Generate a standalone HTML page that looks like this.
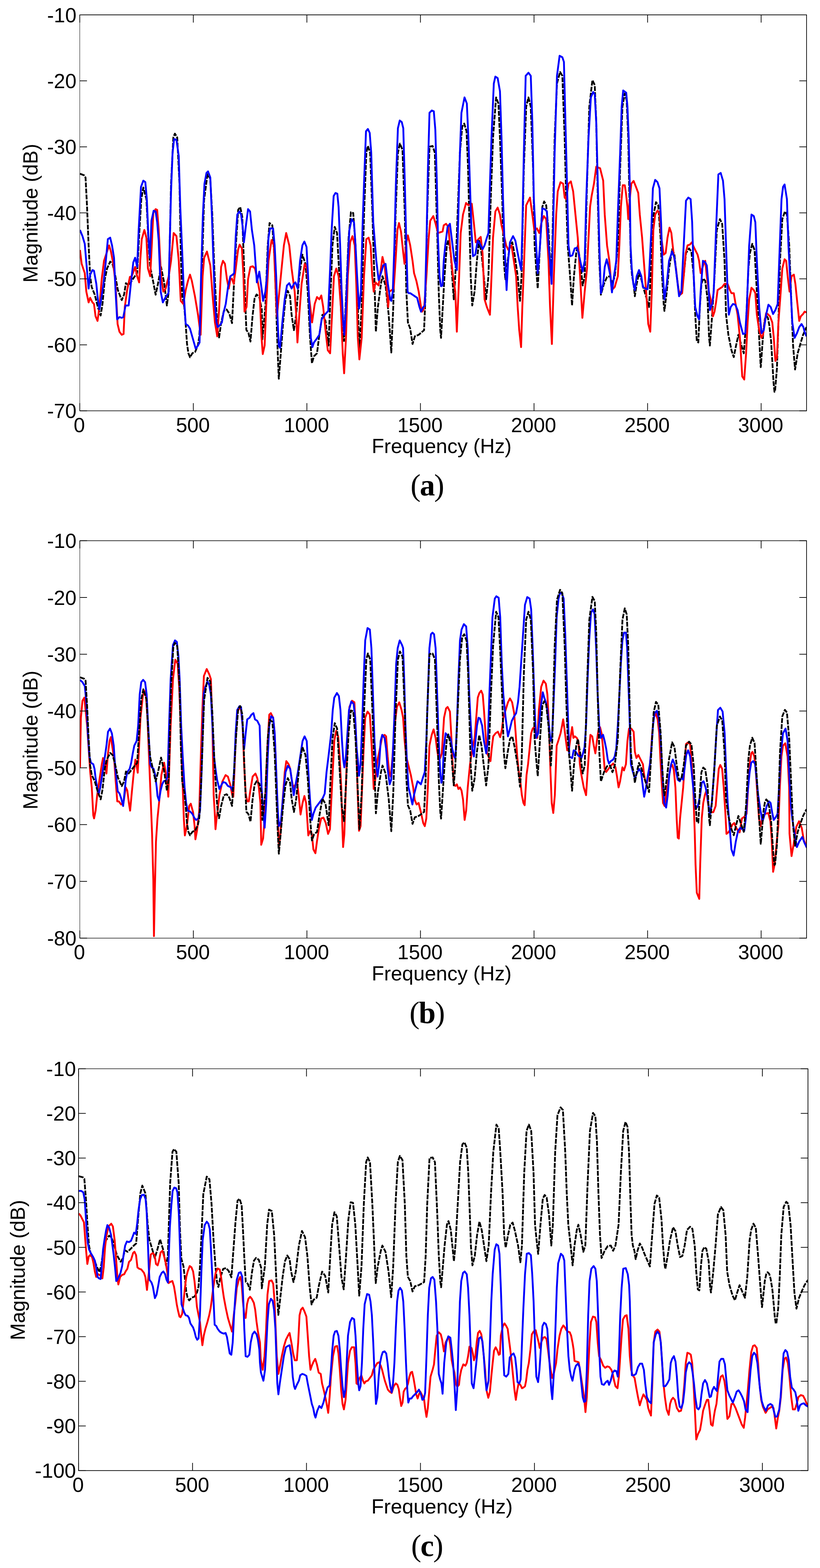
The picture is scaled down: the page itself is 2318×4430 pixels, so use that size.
<!DOCTYPE html>
<html><head><meta charset="utf-8"><title>Magnitude spectra</title>
<style>html,body{margin:0;padding:0;background:#fff;} svg{display:block;}</style></head>
<body><svg width="2318" height="4430" viewBox="0 0 2318 4430">
<rect width="2318" height="4430" fill="#fff"/>
<clipPath id="clipa"><rect x="225.5" y="42.0" width="2054.5" height="1118.7"/></clipPath>
<g clip-path="url(#clipa)" fill="none" stroke-linejoin="round" stroke-linecap="butt">
<polyline stroke="#000" stroke-width="5.0" stroke-dasharray="13.8 3.2" points="226.1,490.8 237.4,495.1 241.8,501.6 246.1,584.4 250.5,693.3 254.8,780.4 259.2,810.9 267.9,832.6 276.6,867.5 284.5,891.4 289.7,858.8 296.2,789.1 302.7,758.6 311.5,739.0 318.0,745.5 324.5,771.7 333.2,819.6 344.1,847.9 350.7,832.6 355.9,800.0 363.7,806.5 372.4,793.4 381.1,780.4 387.7,771.7 394.2,649.7 399.4,562.6 405.1,529.9 413.8,562.6 420.3,693.3 424.7,754.2 433.4,797.8 439.9,832.6 446.5,802.1 455.2,754.2 463.9,797.8 471.7,863.1 477.0,823.9 483.5,519.1 490.0,388.4 494.4,377.5 500.9,388.4 507.4,519.1 511.2,720.0 515.1,835.8 520.9,866.6 524.7,912.9 528.6,970.8 532.5,997.8 537.1,1009.3 544.0,997.8 551.8,993.9 559.5,974.6 563.3,951.5 567.2,874.3 571.0,758.6 576.8,565.7 586.5,492.4 594.2,504.0 600.0,604.3 605.8,758.6 611.5,874.3 615.4,932.2 619.3,953.4 625.0,912.9 632.8,878.2 640.5,874.3 648.2,885.9 655.9,912.9 661.7,797.2 667.5,681.5 673.3,592.7 679.1,585.0 684.8,612.0 688.7,720.0 692.6,835.8 696.4,932.2 702.2,939.9 708.0,965.0 713.8,893.6 719.6,843.5 725.3,831.9 733.1,839.6 740.0,874.3 741.5,958.9 750.2,867.5 756.8,693.3 762.0,630.1 769.8,636.6 776.4,736.8 780.7,867.5 785.1,998.1 788.1,1070.0 793.8,998.1 800.3,911.0 806.9,845.7 813.4,821.7 819.9,837.0 824.3,889.2 830.8,932.8 837.3,889.2 846.1,780.4 854.8,719.4 863.5,745.5 870.0,823.9 876.5,954.6 881.8,1026.4 887.4,1006.8 896.1,998.1 902.7,945.9 911.4,889.2 920.1,906.7 928.8,976.3 934.5,823.9 939.7,693.3 946.2,641.0 952.8,658.4 959.3,780.4 965.8,911.0 972.4,963.3 978.9,823.9 985.4,671.5 992.0,599.6 998.5,601.8 1005.0,693.3 1011.5,867.5 1015.9,989.4 1022.4,867.5 1029.0,606.2 1035.5,432.0 1039.9,412.4 1046.4,432.0 1052.9,606.2 1058.1,780.4 1062.5,937.2 1068.2,867.5 1076.9,802.1 1081.2,780.4 1089.9,806.5 1098.7,889.2 1106.1,995.9 1111.7,867.5 1118.2,606.2 1124.8,432.0 1130.4,405.8 1137.8,423.2 1144.4,606.2 1148.7,823.9 1153.1,911.0 1159.6,928.4 1166.2,972.0 1172.7,950.2 1183.6,945.9 1198.8,932.8 1203.2,823.9 1207.5,606.2 1214.1,414.5 1222.8,412.4 1229.3,432.0 1235.8,649.7 1240.2,823.9 1244.5,932.8 1246.7,954.6 1256.5,780.4 1263.1,693.3 1267.4,678.0 1274.0,715.0 1278.3,780.4 1282.7,845.7 1287.0,780.4 1293.6,606.2 1300.1,432.0 1306.6,357.9 1312.3,349.2 1318.8,371.0 1323.2,475.5 1327.5,649.7 1330.6,780.4 1334.9,863.1 1341.5,823.9 1348.0,736.8 1354.5,680.2 1361.1,715.0 1367.6,780.4 1374.1,845.7 1380.7,780.4 1387.2,562.6 1393.7,388.4 1402.4,275.2 1409.0,292.6 1413.3,388.4 1419.8,562.6 1424.2,736.8 1428.6,789.1 1435.1,736.8 1441.6,693.3 1448.2,684.6 1454.7,719.4 1463.4,780.4 1469.9,850.1 1474.3,780.4 1480.8,475.5 1487.4,301.3 1493.9,275.2 1500.4,301.3 1507.0,475.5 1511.3,693.3 1515.7,758.6 1520.0,815.2 1526.5,693.3 1533.1,584.4 1538.3,569.1 1544.0,580.0 1550.5,649.7 1557.0,780.4 1561.4,693.3 1567.9,388.4 1574.5,236.0 1583.2,203.3 1589.7,214.2 1596.2,388.4 1600.6,562.6 1604.9,693.3 1611.5,780.4 1617.1,863.1 1622.4,780.4 1628.9,715.0 1633.2,693.3 1639.8,736.8 1647.2,806.5 1652.8,780.4 1659.4,519.1 1665.9,301.3 1674.6,226.4 1681.2,240.3 1685.5,344.9 1689.9,562.6 1694.2,736.8 1698.6,832.6 1707.3,802.1 1716.0,782.5 1724.7,780.4 1731.2,802.1 1737.8,780.4 1746.5,693.3 1753.0,475.5 1759.5,301.3 1766.1,264.3 1771.5,283.9 1775.9,388.4 1780.2,606.2 1783.3,736.8 1786.8,780.4 1791.1,802.1 1794.6,837.0 1799.8,802.1 1806.4,771.7 1812.9,789.1 1819.4,815.2 1826.0,837.0 1834.7,867.5 1839.0,780.4 1843.4,693.3 1847.7,606.2 1854.3,571.3 1860.8,580.0 1867.3,671.5 1871.7,780.4 1876.1,858.8 1878.2,878.4 1884.8,823.9 1891.3,758.6 1900.0,704.2 1906.5,719.4 1913.1,780.4 1919.6,828.3 1926.1,823.9 1932.7,780.4 1939.2,715.0 1947.9,702.0 1954.4,710.7 1961.0,780.4 1965.3,889.2 1969.7,963.3 1974.0,967.6 1978.4,867.5 1982.8,802.1 1988.0,786.9 1993.6,793.4 2000.2,845.7 2004.5,954.6 2006.7,976.3 2013.2,889.2 2019.8,780.4 2026.3,649.7 2035.0,619.2 2041.5,632.3 2048.1,736.8 2052.4,889.2 2059.0,945.9 2067.7,989.4 2074.2,1009.0 2080.7,976.3 2087.3,945.9 2096.0,976.3 2102.5,998.1 2109.1,911.0 2115.6,758.6 2119.9,715.0 2126.5,688.9 2133.0,706.3 2139.5,823.9 2146.1,954.6 2150.4,1037.3 2150.8,1035.1 2154.6,981.3 2158.5,927.5 2162.3,900.6 2166.2,891.6 2170.8,898.4 2174.7,918.6 2179.7,963.4 2183.5,1026.2 2186.6,1080.0 2189.3,1106.9 2190.9,1104.8 2196.2,1041.7 2200.5,911.0 2204.9,736.8 2211.4,619.2 2218.8,597.5 2224.5,606.2 2231.0,693.3 2237.5,867.5 2241.9,976.3 2247.5,1043.9 2254.9,998.1 2263.7,967.6 2270.2,945.9 2279.8,924.1"/>
<polyline stroke="#ff0000" stroke-width="5.2" points="226.1,706.3 230.9,745.5 239.6,771.7 244.0,823.9 250.5,854.4 254.8,841.3 261.4,854.4 265.7,858.8 270.1,893.6 275.7,906.7 281.0,867.5 287.5,789.1 294.0,736.8 302.7,710.7 308.4,693.3 313.6,710.7 320.2,745.5 326.7,802.1 332.4,915.4 337.6,937.2 344.1,945.9 349.3,943.7 352.8,867.5 359.4,819.6 367.2,782.5 372.4,780.4 379.0,762.9 382.0,754.2 387.7,780.4 393.3,797.8 396.4,736.8 400.7,675.8 408.1,649.7 413.8,671.5 418.2,758.6 424.7,780.4 429.0,693.3 433.4,601.8 439.9,590.9 444.3,593.1 448.6,649.7 455.2,780.4 461.7,823.9 468.2,815.2 477.0,780.4 483.5,736.8 490.9,658.4 498.7,667.1 505.3,736.8 510.9,850.1 518.3,858.8 524.9,819.6 531.4,793.4 537.1,776.0 542.3,793.4 551.0,837.0 559.7,889.2 567.1,945.9 572.8,780.4 577.1,728.1 585.0,710.7 594.5,749.9 601.1,837.0 607.6,911.0 614.1,950.2 619.8,867.5 625.0,754.2 630.3,736.8 635.9,745.5 641.6,789.1 646.8,815.2 651.2,789.1 655.5,786.9 660.7,802.1 666.4,758.6 672.9,706.3 677.3,691.1 683.8,702.0 688.2,780.4 691.2,880.5 696.9,867.5 701.2,789.1 707.8,754.2 714.3,752.1 720.8,758.6 727.4,789.1 733.9,823.9 739.4,954.6 742.8,1000.3 748.1,976.3 752.4,867.5 759.0,736.8 767.7,678.0 774.2,693.3 778.6,802.1 782.9,893.6 796.0,758.6 802.5,693.3 809.0,658.4 817.7,693.3 824.3,758.6 833.0,823.9 837.3,889.2 840.8,967.6 846.1,889.2 852.6,802.1 861.3,745.5 867.8,758.6 874.4,845.7 882.2,911.0 889.6,858.8 896.1,839.2 902.7,845.7 908.3,834.8 913.6,867.5 920.1,932.8 926.6,989.4 933.2,998.1 937.5,911.0 944.0,780.4 950.6,758.6 957.1,780.4 963.6,867.5 968.9,998.1 972.8,1054.7 978.0,954.6 983.2,780.4 989.8,684.6 996.3,667.1 1002.8,693.3 1007.2,802.1 1011.5,954.6 1015.9,1015.5 1022.4,954.6 1029.0,780.4 1035.5,675.8 1042.0,671.5 1047.7,693.3 1052.1,780.4 1056.4,823.9 1061.6,797.8 1070.3,806.5 1076.9,758.6 1081.2,725.9 1087.8,754.2 1092.1,802.1 1097.3,867.5 1100.8,823.9 1107.4,819.6 1113.0,815.2 1118.2,736.8 1123.5,649.7 1127.8,630.1 1133.5,654.1 1140.0,715.0 1143.5,745.5 1148.7,684.6 1153.1,665.0 1159.6,693.3 1166.2,736.8 1170.5,771.7 1177.0,793.4 1183.6,823.9 1190.1,867.5 1193.2,880.5 1198.8,871.8 1205.4,780.4 1211.9,671.5 1216.2,623.6 1224.9,610.5 1231.5,632.3 1238.0,658.4 1244.5,656.2 1251.1,654.1 1254.4,636.6 1260.9,632.3 1267.4,641.0 1274.0,715.0 1280.5,780.4 1287.0,823.9 1291.4,937.2 1297.9,780.4 1302.3,658.4 1308.8,606.2 1317.5,573.5 1324.0,580.0 1333.6,575.7 1339.3,627.9 1344.9,684.6 1352.3,675.8 1358.9,669.3 1364.1,715.0 1369.8,845.7 1376.3,867.5 1385.0,889.2 1389.4,780.4 1393.7,671.5 1400.3,597.5 1406.8,586.6 1413.3,606.2 1417.7,636.6 1424.2,662.8 1430.7,693.3 1437.3,706.3 1446.0,693.3 1452.5,736.8 1459.0,780.4 1463.4,867.5 1467.8,932.8 1473.0,980.7 1476.5,867.5 1480.8,758.6 1487.4,580.0 1498.2,558.3 1504.8,606.2 1510.4,649.7 1517.8,645.4 1524.4,658.4 1530.9,627.9 1537.4,610.5 1544.0,619.2 1550.5,736.8 1554.9,867.5 1560.1,972.0 1565.7,780.4 1572.3,606.2 1576.6,540.8 1584.5,514.7 1591.9,519.1 1596.2,558.3 1600.6,562.6 1607.1,519.1 1613.7,512.5 1620.2,540.8 1626.7,606.2 1633.2,671.5 1639.8,780.4 1646.3,898.0 1652.8,823.9 1659.4,758.6 1663.7,671.5 1668.1,584.4 1672.4,553.9 1679.0,519.1 1685.5,471.2 1696.4,475.5 1705.1,510.4 1709.5,606.2 1716.0,693.3 1722.5,736.8 1729.1,819.6 1737.8,810.9 1746.5,780.4 1750.8,693.3 1755.2,584.4 1760.4,523.4 1766.1,523.4 1769.4,545.2 1773.7,584.4 1775.9,619.2 1780.2,562.6 1784.6,519.1 1791.1,511.2 1797.7,527.8 1804.2,545.2 1808.6,606.2 1815.1,671.5 1821.6,758.6 1828.1,845.7 1832.5,915.4 1838.2,937.2 1842.5,823.9 1846.9,649.7 1852.1,606.2 1858.6,595.3 1864.3,601.8 1869.5,671.5 1876.1,719.4 1881.7,715.0 1886.9,671.5 1892.6,643.2 1897.8,658.4 1904.4,719.4 1910.9,758.6 1917.4,815.2 1922.7,832.6 1928.3,828.3 1932.7,780.4 1938.3,715.0 1943.6,693.3 1950.1,691.1 1955.8,684.6 1961.0,697.6 1967.5,710.7 1971.9,719.4 1976.2,736.8 1980.6,771.7 1984.9,758.6 1989.3,745.5 1993.6,736.8 1998.0,780.4 2003.7,823.9 2008.9,845.7 2015.4,893.6 2019.8,880.5 2024.1,854.4 2028.5,819.6 2035.0,815.2 2041.5,810.9 2048.1,802.1 2056.8,802.1 2063.3,819.6 2067.7,828.3 2074.2,828.3 2078.6,854.4 2085.1,889.2 2091.6,954.6 2098.2,1063.5 2103.8,1072.2 2109.1,998.1 2113.4,911.0 2117.8,845.7 2124.3,813.0 2130.8,819.6 2135.2,828.3 2139.5,889.2 2146.1,932.8 2152.6,954.6 2157.0,945.9 2161.3,911.0 2165.7,884.9 2170.0,887.1 2176.6,893.6 2183.1,911.0 2187.4,954.6 2191.8,1019.9 2196.2,1011.2 2200.5,911.0 2207.0,823.9 2211.4,758.6 2217.9,732.5 2222.3,736.8 2226.6,780.4 2231.9,823.9 2237.5,780.4 2244.1,776.0 2248.4,802.1 2252.8,845.7 2259.3,906.7 2263.7,893.6 2270.2,887.1 2274.5,880.5 2279.8,882.7"/>
<polyline stroke="#0000ff" stroke-width="5.2" points="226.1,649.7 233.1,667.1 239.6,688.9 244.0,741.2 250.5,815.2 254.8,776.0 261.4,762.9 265.7,765.1 272.3,802.1 276.6,845.7 281.0,874.0 285.3,850.1 291.9,806.5 298.4,745.5 304.9,675.8 311.5,671.5 316.7,693.3 322.3,728.1 326.7,823.9 331.1,902.3 337.6,895.8 344.1,898.0 348.5,895.8 355.0,863.1 363.7,863.1 370.3,797.8 376.8,741.2 382.0,728.1 387.7,754.2 392.0,649.7 398.6,527.8 405.1,510.4 410.8,514.7 415.1,562.6 419.5,667.1 423.8,728.1 428.2,623.6 434.3,595.3 439.9,597.5 444.3,627.9 448.6,680.2 454.3,823.9 460.4,854.4 468.2,839.2 476.1,828.3 479.1,715.0 483.5,540.8 487.8,432.0 492.2,392.8 498.7,394.9 505.3,440.7 509.6,584.4 516.1,736.8 520.5,845.7 524.9,915.4 531.4,919.7 537.1,928.4 544.5,954.6 553.2,985.1 559.7,976.3 564.1,967.6 568.4,780.4 573.6,606.2 578.0,519.1 583.7,488.6 588.0,484.2 594.5,501.6 598.9,606.2 603.2,736.8 607.6,858.8 612.0,911.0 615.4,924.1 620.7,919.7 627.2,911.0 631.6,884.9 638.1,858.8 644.6,810.9 651.2,780.4 657.7,776.0 662.0,771.7 666.4,667.1 670.8,606.2 676.4,597.5 681.6,606.2 686.0,641.0 689.5,684.6 694.7,641.0 701.2,590.9 706.9,597.5 712.1,649.7 718.7,693.3 726.1,797.8 733.0,767.3 739.4,815.2 743.7,850.1 750.2,823.9 754.6,780.4 759.0,671.5 763.3,645.4 772.0,645.4 776.4,693.3 780.7,780.4 785.1,911.0 788.1,976.3 791.6,982.9 798.1,911.0 804.7,845.7 811.2,806.5 817.7,800.0 824.3,815.2 830.8,802.1 835.2,797.8 841.7,815.2 848.2,736.8 854.8,693.3 860.4,682.4 866.5,697.6 870.9,780.4 874.4,867.5 878.7,954.6 883.1,980.7 887.4,967.6 894.0,958.9 902.7,945.9 909.2,902.3 917.9,889.2 927.9,878.4 933.2,758.6 937.5,649.7 943.2,553.9 948.4,545.2 953.6,547.4 957.1,584.4 961.5,693.3 965.8,823.9 970.2,911.0 973.2,945.9 978.0,867.5 983.2,736.8 987.6,649.7 994.1,619.2 1000.7,627.9 1005.0,693.3 1009.4,780.4 1015.0,871.8 1020.3,823.9 1024.6,649.7 1029.0,519.1 1034.6,371.0 1039.9,364.5 1045.1,375.3 1049.4,432.0 1055.1,627.9 1063.8,736.8 1070.3,791.3 1076.9,771.7 1083.4,749.9 1089.9,745.5 1096.5,802.1 1103.0,845.7 1106.1,850.1 1110.4,823.9 1114.8,693.3 1119.1,519.1 1124.8,362.3 1130.0,340.5 1135.7,344.9 1140.0,362.3 1144.4,519.1 1148.7,693.3 1152.2,823.9 1155.3,828.3 1159.6,828.3 1166.2,832.6 1172.7,837.0 1179.2,841.3 1185.8,867.5 1190.1,880.5 1196.6,867.5 1201.0,863.1 1205.4,693.3 1209.7,475.5 1214.1,318.7 1220.6,312.2 1226.3,314.4 1230.6,366.6 1235.0,519.1 1238.0,671.5 1242.4,780.4 1246.7,808.7 1251.1,806.5 1254.4,736.8 1258.7,693.3 1265.2,641.0 1271.8,632.3 1278.3,684.6 1284.8,736.8 1291.4,762.9 1295.7,606.2 1300.1,432.0 1304.4,318.7 1313.1,275.2 1319.7,292.6 1324.0,388.4 1328.4,519.1 1332.7,649.7 1337.1,723.8 1343.6,719.4 1350.2,680.2 1356.7,688.9 1364.1,704.2 1369.8,693.3 1376.3,671.5 1380.7,658.4 1385.0,519.1 1389.4,388.4 1395.9,236.0 1400.3,216.4 1406.8,220.7 1413.3,257.8 1417.7,388.4 1422.0,562.6 1426.4,693.3 1432.0,819.6 1436.4,736.8 1441.6,684.6 1450.3,667.1 1456.9,680.2 1463.4,715.0 1467.8,736.8 1473.4,762.9 1476.5,649.7 1480.8,432.0 1486.0,214.2 1493.9,205.5 1500.4,214.2 1504.8,344.9 1509.1,562.6 1515.7,693.3 1520.0,771.7 1526.5,693.3 1533.1,588.7 1539.6,590.9 1546.1,597.5 1550.5,693.3 1554.9,736.8 1559.2,802.1 1563.6,649.7 1567.9,432.0 1574.5,214.2 1581.9,157.6 1589.7,161.9 1594.1,175.0 1598.4,344.9 1602.8,519.1 1607.1,693.3 1611.5,723.8 1618.0,721.6 1624.5,702.0 1631.1,699.8 1635.4,715.0 1642.0,745.5 1647.2,767.3 1652.8,736.8 1657.2,562.6 1663.7,388.4 1670.3,275.2 1676.8,259.9 1681.2,266.5 1685.5,344.9 1689.9,519.1 1694.2,693.3 1698.6,828.3 1705.1,802.1 1709.5,754.2 1715.1,732.5 1720.4,754.2 1725.6,780.4 1729.9,826.1 1735.6,780.4 1742.1,736.8 1746.5,606.2 1753.0,432.0 1757.4,301.3 1761.7,255.6 1770.2,262.1 1773.7,301.3 1777.2,388.4 1780.2,519.1 1782.4,693.3 1785.9,758.6 1790.3,802.1 1794.6,819.6 1799.8,780.4 1806.4,762.9 1812.9,780.4 1817.3,810.9 1823.8,815.2 1830.3,817.4 1834.7,780.4 1841.2,649.7 1845.6,532.1 1852.1,508.2 1858.6,514.7 1864.3,532.1 1868.7,627.9 1873.0,758.6 1878.2,845.7 1884.8,802.1 1891.3,736.8 1900.0,710.7 1906.5,728.1 1913.1,780.4 1919.6,837.0 1926.1,823.9 1932.7,693.3 1939.2,567.0 1945.7,558.3 1952.3,562.6 1956.6,627.9 1961.0,780.4 1965.3,867.5 1971.9,893.6 1976.2,902.3 1980.6,823.9 1987.1,736.8 1993.6,741.2 1998.0,749.9 2002.4,802.1 2006.7,876.2 2013.2,858.8 2017.6,823.9 2024.1,649.7 2030.7,492.9 2037.2,488.6 2043.7,510.4 2048.1,562.6 2052.4,693.3 2056.8,823.9 2060.3,889.2 2065.5,867.5 2072.0,858.8 2078.6,860.9 2085.1,876.2 2091.6,911.0 2100.3,943.7 2106.9,941.5 2111.2,867.5 2117.8,693.3 2124.3,606.2 2130.8,610.5 2135.2,627.9 2139.5,736.8 2146.1,867.5 2152.6,941.5 2159.1,932.8 2165.7,889.2 2172.2,860.9 2178.7,867.5 2185.3,887.1 2191.8,876.2 2198.3,858.8 2202.7,736.8 2209.2,562.6 2213.6,527.8 2217.9,521.2 2224.5,562.6 2228.8,693.3 2235.4,823.9 2239.7,911.0 2246.2,954.6 2252.8,941.5 2259.3,924.1 2265.8,915.4 2271.1,924.1 2274.5,937.2 2279.8,950.2"/>
</g>
<g stroke="#000" fill="none">
<line x1="224.95" y1="42.0" x2="2280.95" y2="42.0" stroke-width="1.9"/>
<line x1="224.95" y1="1160.7" x2="2280.95" y2="1160.7" stroke-width="1.8"/>
<line x1="225.5" y1="42.0" x2="225.5" y2="1160.7" stroke-width="1.1"/>
<line x1="2280.0" y1="42.0" x2="2280.0" y2="1160.7" stroke-width="1.9"/>
<line x1="225.5" y1="1160.7" x2="225.5" y2="1138.9" stroke-width="2"/>
<line x1="225.5" y1="42.0" x2="225.5" y2="63.8" stroke-width="2"/>
<line x1="546.5" y1="1160.7" x2="546.5" y2="1138.9" stroke-width="2"/>
<line x1="546.5" y1="42.0" x2="546.5" y2="63.8" stroke-width="2"/>
<line x1="867.5" y1="1160.7" x2="867.5" y2="1138.9" stroke-width="2"/>
<line x1="867.5" y1="42.0" x2="867.5" y2="63.8" stroke-width="2"/>
<line x1="1188.5" y1="1160.7" x2="1188.5" y2="1138.9" stroke-width="2"/>
<line x1="1188.5" y1="42.0" x2="1188.5" y2="63.8" stroke-width="2"/>
<line x1="1509.6" y1="1160.7" x2="1509.6" y2="1138.9" stroke-width="2"/>
<line x1="1509.6" y1="42.0" x2="1509.6" y2="63.8" stroke-width="2"/>
<line x1="1830.6" y1="1160.7" x2="1830.6" y2="1138.9" stroke-width="2"/>
<line x1="1830.6" y1="42.0" x2="1830.6" y2="63.8" stroke-width="2"/>
<line x1="2151.6" y1="1160.7" x2="2151.6" y2="1138.9" stroke-width="2"/>
<line x1="2151.6" y1="42.0" x2="2151.6" y2="63.8" stroke-width="2"/>
<line x1="225.5" y1="1160.7" x2="245.9" y2="1160.7" stroke-width="2"/>
<line x1="2280.0" y1="1160.7" x2="2259.6" y2="1160.7" stroke-width="2"/>
<line x1="225.5" y1="974.3" x2="245.9" y2="974.3" stroke-width="2"/>
<line x1="2280.0" y1="974.3" x2="2259.6" y2="974.3" stroke-width="2"/>
<line x1="225.5" y1="787.8" x2="245.9" y2="787.8" stroke-width="2"/>
<line x1="2280.0" y1="787.8" x2="2259.6" y2="787.8" stroke-width="2"/>
<line x1="225.5" y1="601.4" x2="245.9" y2="601.4" stroke-width="2"/>
<line x1="2280.0" y1="601.4" x2="2259.6" y2="601.4" stroke-width="2"/>
<line x1="225.5" y1="414.9" x2="245.9" y2="414.9" stroke-width="2"/>
<line x1="2280.0" y1="414.9" x2="2259.6" y2="414.9" stroke-width="2"/>
<line x1="225.5" y1="228.4" x2="245.9" y2="228.4" stroke-width="2"/>
<line x1="2280.0" y1="228.4" x2="2259.6" y2="228.4" stroke-width="2"/>
<line x1="225.5" y1="42.0" x2="245.9" y2="42.0" stroke-width="2"/>
<line x1="2280.0" y1="42.0" x2="2259.6" y2="42.0" stroke-width="2"/>
</g>
<g font-family="'Liberation Sans', Arial, Helvetica, sans-serif" font-size="57.4" fill="#000">
<text x="224.3" y="1220.5" text-anchor="middle">0</text>
<text x="545.3" y="1220.5" text-anchor="middle">500</text>
<text x="866.3" y="1220.5" text-anchor="middle">1000</text>
<text x="1187.3" y="1220.5" text-anchor="middle">1500</text>
<text x="1508.4" y="1220.5" text-anchor="middle">2000</text>
<text x="1829.4" y="1220.5" text-anchor="middle">2500</text>
<text x="2150.4" y="1220.5" text-anchor="middle">3000</text>
<text x="216.1" y="1181.2" text-anchor="end">-70</text>
<text x="216.1" y="994.8" text-anchor="end">-60</text>
<text x="216.1" y="808.3" text-anchor="end">-50</text>
<text x="216.1" y="621.9" text-anchor="end">-40</text>
<text x="216.1" y="435.4" text-anchor="end">-30</text>
<text x="216.1" y="248.9" text-anchor="end">-20</text>
<text x="216.1" y="62.5" text-anchor="end">-10</text>
<text x="1248.5" y="1280.4" text-anchor="middle">Frequency (Hz)</text>
<text transform="translate(106.1,602.3) rotate(-90)" text-anchor="middle">Magnitude (dB)</text>
</g>
<text x="1207.0" y="1400.0" font-family="'Liberation Serif', 'Times New Roman', serif" font-size="86" text-anchor="middle" letter-spacing="-2.4">(<tspan font-weight="bold">a</tspan>)</text>
<clipPath id="clipb"><rect x="225.6" y="1527.6" width="2054.4" height="1122.9"/></clipPath>
<g clip-path="url(#clipb)" fill="none" stroke-linejoin="round" stroke-linecap="butt">
<polyline stroke="#ff0000" stroke-width="5.2" points="226.1,2167.9 228.7,2027.9 233.1,1979.8 238.4,1971.1 241.9,2006.1 246.2,2049.8 250.6,2115.4 255.0,2181.0 259.4,2224.7 263.7,2303.5 265.9,2312.2 270.3,2290.3 274.7,2246.6 281.2,2202.9 287.8,2159.1 291.3,2141.7 296.5,2150.4 300.9,2185.4 305.3,2128.5 309.7,2093.5 313.2,2082.6 318.4,2115.4 322.8,2146.0 327.1,2207.3 331.5,2264.1 335.9,2264.1 342.5,2272.9 349.0,2268.5 355.6,2224.7 359.9,2233.5 364.3,2268.5 367.8,2290.3 373.1,2233.5 377.4,2189.8 382.7,2146.0 386.2,2163.5 389.3,2183.2 392.8,2115.4 397.1,2027.9 403.7,1966.7 408.1,1951.4 412.4,1962.3 416.8,2027.9 421.2,2137.3 425.6,2246.6 429.9,2356.0 433.4,2487.2 435.2,2644.6 437.4,2530.9 440.9,2377.8 445.2,2312.2 449.6,2268.5 456.2,2189.8 464.0,2154.8 469.3,2189.8 473.7,2224.7 475.8,2251.0 478.0,2181.0 482.4,2049.8 489.0,1918.6 495.5,1863.9 502.1,1874.9 506.5,1940.5 510.8,2049.8 515.2,2181.0 519.6,2312.2 522.6,2360.3 528.3,2334.1 534.9,2277.2 539.3,2270.7 545.8,2294.7 550.2,2334.1 552.4,2371.3 556.8,2347.2 563.3,2290.3 567.7,2137.3 572.1,2006.1 576.4,1909.9 584.3,1890.2 591.7,1905.5 596.1,1918.6 600.5,2049.8 604.0,2246.6 607.0,2294.7 609.2,2342.8 612.3,2312.2 615.8,2286.0 620.2,2246.6 628.9,2207.3 637.7,2189.8 644.2,2194.1 650.8,2216.0 656.5,2246.6 659.5,2251.0 662.6,2181.0 666.1,2093.5 670.5,2014.8 677.0,1997.3 681.4,2006.1 685.8,2049.8 690.1,2159.1 694.5,2242.2 698.9,2264.1 703.3,2264.1 707.6,2233.5 714.2,2194.1 722.1,2185.4 727.3,2198.5 731.7,2224.7 736.1,2268.5 738.5,2386.6 743.7,2369.1 748.1,2312.2 752.5,2181.0 756.9,2093.5 761.2,2019.2 765.6,2014.8 772.2,2027.9 776.5,2071.7 780.9,2181.0 785.3,2312.2 788.4,2390.9 792.7,2356.0 798.4,2268.5 805.0,2181.0 809.3,2150.4 815.9,2159.1 820.3,2172.3 824.7,2202.9 829.0,2224.7 835.6,2216.0 840.0,2211.6 844.3,2246.6 849.6,2301.3 855.3,2268.5 860.5,2248.8 865.3,2268.5 868.4,2312.2 871.5,2360.3 877.1,2347.2 881.5,2356.0 885.9,2399.7 891.6,2410.6 895.9,2377.8 901.2,2342.8 907.8,2312.2 914.3,2310.0 920.9,2325.3 927.4,2356.0 932.7,2342.8 936.2,2268.5 940.6,2181.0 944.9,2093.5 950.2,2065.1 955.9,2080.4 960.2,2137.3 964.6,2224.7 967.7,2334.1 969.9,2393.1 973.4,2356.0 977.7,2224.7 982.1,2093.5 987.8,1997.3 995.2,1979.8 1001.8,1984.2 1006.2,2071.7 1010.5,2224.7 1014.9,2347.2 1019.3,2334.1 1023.6,2224.7 1028.0,2115.4 1032.4,2027.9 1039.0,2010.4 1045.5,2019.2 1049.9,2093.5 1054.3,2181.0 1056.4,2229.1 1060.8,2202.9 1067.4,2146.0 1073.9,2115.4 1080.5,2080.4 1087.1,2076.1 1091.4,2080.4 1095.8,2137.3 1100.2,2181.0 1104.6,2194.1 1108.9,2146.0 1115.5,2049.8 1122.0,1997.3 1128.6,1984.2 1135.2,2006.1 1139.5,2027.9 1143.9,2093.5 1148.3,2137.3 1154.8,2163.5 1161.4,2189.8 1168.0,2224.7 1172.3,2259.7 1177.6,2272.9 1183.3,2268.5 1189.8,2294.7 1196.4,2325.3 1200.8,2334.1 1205.1,2312.2 1209.5,2224.7 1213.9,2106.7 1220.4,2076.1 1225.7,2060.7 1231.4,2084.8 1235.8,2119.8 1240.1,2146.0 1244.5,2141.7 1248.9,2128.5 1255.2,2027.9 1260.9,2001.7 1265.3,1997.3 1271.9,2010.4 1275.4,2071.7 1278.4,2137.3 1282.8,2216.0 1287.2,2220.4 1291.5,2216.0 1295.9,2229.1 1300.3,2224.7 1304.7,2233.5 1309.0,2259.7 1313.4,2316.6 1317.8,2290.3 1322.2,2224.7 1328.7,2159.1 1335.3,2115.4 1341.8,2084.8 1346.2,2027.9 1350.6,1971.1 1355.0,1958.0 1360.2,1951.4 1364.6,1962.3 1368.1,2006.1 1372.5,2071.7 1376.8,2128.5 1381.2,2137.3 1386.5,2150.4 1389.9,2115.4 1394.3,2080.4 1400.9,2071.7 1407.4,2067.3 1414.0,2082.6 1418.4,2062.9 1422.8,2027.9 1429.3,2006.1 1435.9,1984.2 1441.6,1973.3 1447.7,1984.2 1453.4,2014.8 1457.7,2071.7 1462.1,2137.3 1466.5,2181.0 1470.9,2207.3 1475.2,2246.6 1479.6,2268.5 1483.1,2275.0 1488.4,2189.8 1492.7,2159.1 1497.1,2115.4 1501.5,2071.7 1505.8,2058.6 1510.2,2054.2 1514.6,2076.1 1519.0,2084.8 1523.3,2006.1 1529.9,1940.5 1536.5,1923.0 1543.0,1931.7 1547.4,1962.3 1551.8,2049.8 1556.1,2181.0 1559.6,2268.5 1564.0,2296.9 1568.4,2246.6 1573.6,2106.7 1578.0,2093.5 1584.6,2071.7 1588.9,2049.8 1592.0,2032.3 1595.5,2058.6 1599.9,2093.5 1603.4,2119.8 1608.6,2115.4 1613.9,2076.1 1617.4,2054.2 1620.9,2084.8 1625.2,2080.4 1630.5,2084.8 1634.9,2093.5 1639.2,2159.1 1643.6,2189.8 1650.2,2224.7 1656.7,2246.6 1661.1,2181.0 1665.5,2115.4 1669.0,2076.1 1674.2,2080.4 1678.6,2106.7 1683.0,2128.5 1687.3,2093.5 1691.7,2062.9 1696.1,2054.2 1700.5,2071.7 1704.8,2115.4 1709.2,2172.3 1713.6,2181.0 1720.1,2172.3 1726.7,2163.5 1733.3,2157.0 1739.8,2167.9 1744.2,2194.1 1748.6,2224.7 1752.9,2207.3 1759.5,2167.9 1763.9,2176.6 1769.4,2159.1 1773.7,2093.5 1778.1,2058.6 1784.7,2058.6 1791.2,2067.3 1794.7,2124.2 1799.1,2141.7 1804.4,2132.9 1808.7,2141.7 1813.1,2150.4 1817.5,2159.1 1819.7,2181.0 1824.0,2207.3 1828.4,2216.0 1835.0,2181.0 1839.3,2137.3 1843.7,2071.7 1848.1,2027.9 1853.8,2014.8 1859.0,2032.3 1863.4,2071.7 1866.5,2137.3 1870.0,2202.9 1874.3,2268.5 1878.7,2277.2 1883.1,2246.6 1889.6,2202.9 1895.3,2167.9 1900.6,2161.3 1904.9,2176.6 1909.3,2224.7 1912.8,2312.2 1915.9,2366.9 1918.9,2369.1 1922.4,2312.2 1926.8,2268.5 1931.2,2224.7 1935.6,2159.1 1939.1,2102.3 1944.3,2097.9 1950.9,2102.3 1955.2,2159.1 1959.6,2224.7 1964.0,2356.0 1966.2,2443.4 1969.7,2522.1 1976.7,2539.6 1979.3,2443.4 1983.7,2312.2 1988.0,2268.5 1992.4,2246.6 1996.8,2233.5 2001.2,2268.5 2005.5,2294.7 2009.9,2294.7 2016.5,2294.7 2023.0,2277.2 2027.4,2224.7 2031.8,2172.3 2036.2,2161.3 2041.4,2172.3 2045.8,2224.7 2050.1,2290.3 2053.6,2356.0 2058.9,2351.6 2064.6,2342.8 2070.3,2329.7 2075.5,2325.3 2080.8,2338.5 2086.4,2347.2 2090.8,2351.6 2097.4,2312.2 2103.9,2307.8 2110.5,2299.1 2114.9,2224.7 2119.2,2159.1 2123.6,2128.5 2127.1,2124.2 2132.4,2137.3 2136.7,2181.0 2141.1,2246.6 2145.5,2312.2 2149.9,2334.1 2154.2,2312.2 2158.6,2303.5 2163.9,2299.1 2171.7,2296.9 2177.8,2320.3 2181.6,2374.3 2185.5,2463.1 2189.3,2443.8 2193.2,2405.2 2195.8,2377.8 2200.2,2334.1 2204.5,2224.7 2208.9,2137.3 2213.3,2106.7 2219.8,2100.1 2226.4,2137.3 2230.8,2224.7 2231.8,2355.0 2237.6,2418.7 2243.3,2385.9 2251.1,2335.8 2258.8,2320.3 2266.5,2339.6 2272.3,2374.3 2280.0,2393.6 2281.1,2342.8"/>
<polyline stroke="#0000ff" stroke-width="5.2" points="226.1,1920.8 233.1,1927.4 239.7,1938.3 244.1,1984.2 248.4,2071.7 252.8,2137.3 257.2,2154.8 263.7,2159.1 267.2,2172.3 270.3,2198.5 274.7,2224.7 279.0,2244.4 283.4,2224.7 290.0,2181.0 296.5,2137.3 300.9,2106.7 305.3,2067.3 311.0,2058.6 316.2,2071.7 321.5,2106.7 325.0,2159.1 329.3,2202.9 332.8,2235.7 338.1,2242.2 342.5,2255.4 348.1,2277.2 351.2,2246.6 355.6,2202.9 359.9,2181.0 366.5,2172.3 370.9,2154.8 375.3,2128.5 379.6,2106.7 386.2,2093.5 390.6,2049.8 394.9,1962.3 399.3,1927.4 404.6,1920.8 410.2,1927.4 414.6,1962.3 417.7,2027.9 421.2,2093.5 424.7,2159.1 429.0,2167.9 434.3,2172.3 438.7,2189.8 443.0,2224.7 445.2,2248.8 449.6,2261.9 454.0,2233.5 458.4,2216.0 462.7,2207.3 469.3,2205.1 473.7,2194.1 478.0,2049.8 482.4,1918.6 489.0,1822.4 494.7,1809.3 499.9,1813.6 504.3,1853.0 507.8,1918.6 512.1,2049.8 516.5,2137.3 521.8,2224.7 526.1,2268.5 530.5,2290.3 537.1,2292.5 543.6,2299.1 550.2,2312.2 554.6,2316.6 561.1,2312.2 565.5,2290.3 569.9,2181.0 573.4,2049.8 576.4,1958.0 580.8,1940.5 586.5,1925.2 591.7,1936.1 596.1,1962.3 600.5,2049.8 604.9,2137.3 609.2,2172.3 613.6,2202.9 620.2,2229.1 626.7,2216.0 631.1,2209.4 637.7,2211.6 644.2,2220.4 653.0,2224.7 657.3,2233.5 661.7,2181.0 666.1,2071.7 670.5,2006.1 677.0,1995.1 681.4,1997.3 685.8,2049.8 690.1,2115.4 694.5,2071.7 698.9,2032.3 705.4,2027.9 710.7,2019.2 716.4,2014.8 720.8,2032.3 727.3,2036.7 733.9,2049.8 739.4,2224.7 743.7,2290.3 748.1,2338.5 752.5,2268.5 756.9,2137.3 761.2,2049.8 766.5,2023.6 772.2,2027.9 776.5,2071.7 780.9,2181.0 785.3,2290.3 788.4,2334.1 794.0,2321.0 800.6,2246.6 807.2,2181.0 813.7,2163.5 820.3,2172.3 824.7,2202.9 830.3,2246.6 835.6,2216.0 842.1,2181.0 848.7,2137.3 855.3,2093.5 861.0,2080.4 867.1,2093.5 870.6,2159.1 874.1,2224.7 877.1,2268.5 881.5,2316.6 885.9,2299.1 892.4,2281.6 899.0,2272.9 905.6,2264.1 912.1,2255.4 917.8,2242.2 923.1,2181.0 929.6,2128.5 936.2,2071.7 940.6,2006.1 944.9,1971.1 952.4,1958.0 958.0,1966.7 962.4,2006.1 966.8,2093.5 970.3,2146.0 973.4,2167.9 977.7,2137.3 982.1,2071.7 986.5,2006.1 993.0,1982.0 999.6,1988.6 1004.0,2027.9 1008.3,2115.4 1012.7,2159.1 1014.9,2191.9 1019.3,2159.1 1023.6,2049.8 1028.0,1918.6 1032.4,1809.3 1039.0,1774.3 1045.5,1778.7 1049.9,1831.1 1054.3,1962.3 1058.6,2093.5 1063.0,2159.1 1067.4,2194.1 1071.8,2159.1 1076.1,2093.5 1080.5,2076.1 1087.1,2084.8 1091.4,2115.4 1095.8,2172.3 1101.5,2216.0 1105.9,2202.9 1110.2,2137.3 1115.5,2006.1 1119.9,1874.9 1124.2,1831.1 1129.9,1809.3 1136.5,1822.4 1139.5,1831.1 1142.6,1918.6 1146.1,2049.8 1150.5,2159.1 1154.8,2224.7 1160.1,2246.6 1165.8,2272.9 1170.2,2246.6 1174.5,2229.1 1180.2,2207.3 1185.5,2211.6 1189.8,2216.0 1196.4,2194.1 1200.8,2181.0 1205.1,2093.5 1209.5,1962.3 1213.9,1831.1 1218.3,1791.8 1222.6,1787.4 1227.0,1791.8 1231.4,1831.1 1235.8,1962.3 1240.1,2093.5 1244.5,2181.0 1247.6,2211.6 1251.1,2198.5 1254.4,2115.4 1259.6,2071.7 1265.3,2078.2 1269.7,2080.4 1274.1,2089.2 1278.4,2115.4 1284.1,2137.3 1287.2,2143.8 1291.5,2049.8 1295.9,1918.6 1300.3,1809.3 1304.7,1778.7 1311.2,1763.4 1317.8,1769.9 1322.2,1831.1 1326.5,1962.3 1330.9,2049.8 1335.3,2115.4 1339.7,2137.3 1344.0,2093.5 1348.4,2049.8 1352.8,2027.9 1357.1,2030.1 1362.8,2049.8 1368.1,2093.5 1374.6,2128.5 1379.0,2093.5 1383.4,1962.3 1387.8,1853.0 1392.1,1743.7 1398.7,1691.2 1403.1,1684.6 1409.6,1689.0 1414.0,1743.7 1418.4,1874.9 1422.8,1962.3 1429.3,2027.9 1435.9,2080.4 1441.6,2058.6 1446.8,2036.7 1453.4,2023.6 1459.0,2014.8 1464.3,1984.2 1468.7,1940.5 1473.0,1874.9 1477.4,1809.3 1484.0,1708.7 1490.5,1686.8 1497.1,1691.2 1501.5,1721.8 1505.8,1831.1 1510.2,1962.3 1512.4,2027.9 1515.9,2084.8 1521.2,2071.7 1527.7,2006.1 1534.3,1955.8 1538.6,1971.1 1543.0,1984.2 1547.4,2006.1 1551.8,2049.8 1556.1,2093.5 1560.5,2080.4 1564.9,1984.2 1569.3,1874.9 1573.6,1743.7 1578.9,1691.2 1583.3,1673.7 1588.9,1678.1 1593.3,1691.2 1597.7,1787.4 1602.1,1918.6 1606.4,2049.8 1609.5,2137.3 1613.0,2139.5 1617.4,2141.7 1621.7,2119.8 1626.1,2122.0 1630.5,2128.5 1634.9,2135.1 1639.2,2137.3 1643.6,2141.7 1648.0,2128.5 1652.4,2111.0 1656.7,2049.8 1661.1,1918.6 1665.5,1809.3 1670.7,1730.6 1676.4,1721.8 1680.8,1734.9 1685.2,1831.1 1689.5,1962.3 1693.9,2049.8 1698.3,2084.8 1704.8,2076.1 1709.2,2093.5 1713.6,2115.4 1718.0,2146.0 1721.5,2157.0 1726.7,2150.4 1733.3,2146.0 1737.6,2137.3 1742.0,2115.4 1746.4,2049.8 1750.8,1962.3 1755.1,1874.9 1759.5,1809.3 1763.9,1787.4 1769.4,1787.4 1772.9,1831.1 1775.9,1918.6 1779.0,2006.1 1781.6,2093.5 1783.4,2159.1 1789.1,2181.0 1794.7,2198.5 1800.0,2185.4 1806.5,2172.3 1812.2,2181.0 1817.5,2224.7 1821.0,2251.0 1826.2,2224.7 1831.5,2189.8 1837.2,2159.1 1841.5,2115.4 1845.9,2049.8 1850.3,2014.8 1856.8,2008.3 1862.1,2027.9 1867.8,2093.5 1872.1,2181.0 1877.8,2268.5 1883.1,2281.6 1887.5,2246.6 1891.8,2189.8 1897.1,2159.1 1901.9,2146.0 1907.1,2159.1 1911.5,2181.0 1915.9,2202.9 1921.6,2207.3 1926.8,2196.3 1931.2,2202.9 1935.6,2167.9 1939.9,2132.9 1945.2,2119.8 1950.9,2137.3 1957.4,2202.9 1961.8,2246.6 1966.2,2286.0 1972.7,2277.2 1979.3,2246.6 1983.7,2211.6 1988.9,2207.3 1994.6,2224.7 1999.0,2246.6 2003.4,2277.2 2006.4,2303.5 2012.1,2268.5 2018.7,2181.0 2025.2,2071.7 2029.6,2006.1 2036.2,1999.5 2042.7,2010.4 2048.4,2071.7 2052.8,2181.0 2057.1,2268.5 2062.4,2334.1 2067.6,2399.7 2073.8,2417.2 2079.9,2377.8 2086.4,2347.2 2093.0,2338.5 2098.3,2342.8 2103.9,2347.2 2108.3,2312.2 2112.7,2246.6 2119.2,2181.0 2123.6,2154.8 2129.3,2150.4 2134.6,2159.1 2138.9,2202.9 2143.3,2246.6 2149.9,2290.3 2155.5,2321.0 2160.8,2303.5 2167.4,2277.2 2173.9,2264.1 2178.3,2268.5 2182.7,2294.7 2187.0,2316.6 2193.6,2307.8 2198.0,2299.1 2202.3,2224.7 2206.7,2137.3 2213.3,2071.7 2220.7,2058.6 2226.4,2093.5 2230.8,2181.0 2235.1,2268.5 2239.5,2312.2 2246.1,2356.0 2252.6,2393.1 2259.2,2377.8 2267.9,2364.7 2274.5,2382.2 2281.1,2395.3"/>
<polyline stroke="#000" stroke-width="5.0" stroke-dasharray="13.8 3.2" points="226.2,1913.7 237.5,1917.4 241.9,1923.1 246.2,1994.2 250.6,2087.9 254.9,2162.9 259.3,2189.1 268.0,2207.8 276.7,2237.8 284.6,2258.4 289.8,2230.3 296.3,2170.4 302.8,2144.1 311.6,2127.3 318.1,2132.9 324.6,2155.4 333.3,2196.6 344.2,2220.9 350.7,2207.8 356.0,2179.7 363.8,2185.3 372.5,2174.1 381.2,2162.9 387.8,2155.4 394.3,2050.5 399.5,1975.5 405.2,1947.4 413.9,1975.5 420.4,2087.9 424.8,2140.4 433.5,2177.9 440.0,2207.8 446.6,2181.6 455.3,2140.4 464.0,2177.9 471.8,2234.1 477.0,2200.3 483.6,1938.0 490.1,1825.6 494.5,1816.3 501.0,1825.6 507.5,1938.0 511.3,2111.0 515.2,2210.5 521.0,2237.1 524.8,2276.9 528.7,2326.7 532.5,2349.9 537.2,2359.9 544.1,2349.9 551.8,2346.6 559.5,2330.0 563.4,2310.1 567.3,2243.7 571.1,2144.1 576.9,1978.2 586.6,1915.1 594.3,1925.1 600.1,2011.4 605.8,2144.1 611.6,2243.7 615.5,2293.5 619.3,2311.7 625.1,2276.9 632.8,2247.0 640.6,2243.7 648.3,2253.7 656.0,2276.9 661.8,2177.3 667.6,2077.8 673.3,2001.4 679.1,1994.8 684.9,2018.0 688.8,2111.0 692.6,2210.5 696.5,2293.5 702.3,2300.1 708.1,2321.7 713.8,2260.3 719.6,2217.2 725.4,2207.2 733.1,2213.8 740.1,2243.7 741.6,2316.5 750.3,2237.8 756.8,2087.9 762.1,2033.6 769.9,2039.2 776.4,2125.4 780.8,2237.8 785.2,2350.2 788.2,2412.0 793.9,2350.2 800.4,2275.3 806.9,2219.1 813.5,2198.5 820.0,2211.6 824.4,2256.5 830.9,2294.0 837.4,2256.5 846.1,2162.9 854.8,2110.4 863.5,2132.9 870.1,2200.3 876.6,2312.7 881.8,2374.6 887.5,2357.7 896.2,2350.2 902.7,2305.2 911.4,2256.5 920.2,2271.5 928.9,2331.5 934.5,2200.3 939.8,2087.9 946.3,2043.0 952.8,2057.9 959.4,2162.9 965.9,2275.3 972.4,2320.2 978.9,2200.3 985.5,2069.2 992.0,2007.4 998.5,2009.2 1005.1,2087.9 1011.6,2237.8 1016.0,2342.7 1022.5,2237.8 1029.0,2013.0 1035.6,1863.1 1039.9,1846.2 1046.5,1863.1 1053.0,2013.0 1058.2,2162.9 1062.6,2297.8 1068.2,2237.8 1076.9,2181.6 1081.3,2162.9 1090.0,2185.3 1098.7,2256.5 1106.1,2348.3 1111.8,2237.8 1118.3,2013.0 1124.8,1863.1 1130.5,1840.6 1137.9,1855.6 1144.4,2013.0 1148.8,2200.3 1153.1,2275.3 1159.7,2290.3 1166.2,2327.7 1172.7,2309.0 1183.6,2305.2 1198.9,2294.0 1203.2,2200.3 1207.6,2013.0 1214.1,1848.1 1222.8,1846.2 1229.4,1863.1 1235.9,2050.5 1240.2,2200.3 1244.6,2294.0 1246.8,2312.7 1256.6,2162.9 1263.1,2087.9 1267.5,2074.8 1274.0,2106.7 1278.4,2162.9 1282.7,2219.1 1287.1,2162.9 1293.6,2013.0 1300.1,1863.1 1306.7,1799.4 1312.3,1791.9 1318.9,1810.6 1323.2,1900.6 1327.6,2050.5 1330.6,2162.9 1335.0,2234.1 1341.5,2200.3 1348.0,2125.4 1354.6,2076.7 1361.1,2106.7 1367.6,2162.9 1374.2,2219.1 1380.7,2162.9 1387.2,1975.5 1393.8,1825.6 1402.5,1728.2 1409.0,1743.2 1413.4,1825.6 1419.9,1975.5 1424.2,2125.4 1428.6,2170.4 1435.1,2125.4 1441.7,2087.9 1448.2,2080.4 1454.7,2110.4 1463.4,2162.9 1470.0,2222.8 1474.3,2162.9 1480.9,1900.6 1487.4,1750.7 1493.9,1728.2 1500.5,1750.7 1507.0,1900.6 1511.3,2087.9 1515.7,2144.1 1520.1,2192.8 1526.6,2087.9 1533.1,1994.2 1538.3,1981.1 1544.0,1990.5 1550.5,2050.5 1557.1,2162.9 1561.4,2087.9 1568.0,1825.6 1574.5,1694.5 1583.2,1666.4 1589.7,1675.8 1596.3,1825.6 1600.6,1975.5 1605.0,2087.9 1611.5,2162.9 1617.2,2234.1 1622.4,2162.9 1628.9,2106.7 1633.3,2087.9 1639.8,2125.4 1647.2,2185.3 1652.9,2162.9 1659.4,1938.0 1665.9,1750.7 1674.7,1686.2 1681.2,1698.2 1685.5,1788.2 1689.9,1975.5 1694.2,2125.4 1698.6,2207.8 1707.3,2181.6 1716.0,2164.7 1724.7,2162.9 1731.3,2181.6 1737.8,2162.9 1746.5,2087.9 1753.0,1900.6 1759.6,1750.7 1766.1,1718.8 1771.6,1735.7 1775.9,1825.6 1780.3,2013.0 1783.3,2125.4 1786.8,2162.9 1791.2,2181.6 1794.6,2211.6 1799.9,2181.6 1806.4,2155.4 1812.9,2170.4 1819.5,2192.8 1826.0,2211.6 1834.7,2237.8 1839.1,2162.9 1843.4,2087.9 1847.8,2013.0 1854.3,1983.0 1860.8,1990.5 1867.4,2069.2 1871.7,2162.9 1876.1,2230.3 1878.3,2247.2 1884.8,2200.3 1891.3,2144.1 1900.0,2097.3 1906.6,2110.4 1913.1,2162.9 1919.6,2204.1 1926.2,2200.3 1932.7,2162.9 1939.2,2106.7 1947.9,2095.4 1954.5,2102.9 1961.0,2162.9 1965.4,2256.5 1969.7,2320.2 1974.1,2324.0 1978.4,2237.8 1982.8,2181.6 1988.0,2168.5 1993.7,2174.1 2000.2,2219.1 2004.5,2312.7 2006.7,2331.5 2013.3,2256.5 2019.8,2162.9 2026.3,2050.5 2035.0,2024.2 2041.6,2035.5 2048.1,2125.4 2052.4,2256.5 2059.0,2305.2 2067.7,2342.7 2074.2,2359.6 2080.8,2331.5 2087.3,2305.2 2096.0,2331.5 2102.5,2350.2 2109.1,2275.3 2115.6,2144.1 2119.9,2106.7 2126.5,2084.2 2133.0,2099.2 2139.5,2200.3 2146.1,2312.7 2150.4,2383.9 2150.8,2382.0 2154.6,2335.8 2158.5,2289.5 2162.3,2266.3 2166.2,2258.6 2170.8,2264.4 2174.7,2281.8 2179.7,2320.3 2183.5,2374.3 2186.6,2420.6 2189.3,2443.8 2190.9,2442.0 2196.2,2387.7 2200.5,2275.3 2204.9,2125.4 2211.4,2024.2 2218.8,2005.5 2224.5,2013.0 2231.0,2087.9 2237.5,2237.8 2241.9,2331.5 2247.5,2389.6 2255.0,2350.2 2263.7,2324.0 2270.2,2305.2 2279.8,2286.5"/>
</g>
<g stroke="#000" fill="none">
<line x1="225.04999999999998" y1="1527.6" x2="2280.95" y2="1527.6" stroke-width="1.9"/>
<line x1="225.04999999999998" y1="2650.5" x2="2280.95" y2="2650.5" stroke-width="1.3"/>
<line x1="225.6" y1="1527.6" x2="225.6" y2="2650.5" stroke-width="1.1"/>
<line x1="2280.0" y1="1527.6" x2="2280.0" y2="2650.5" stroke-width="1.9"/>
<line x1="225.6" y1="2650.5" x2="225.6" y2="2628.7" stroke-width="2"/>
<line x1="225.6" y1="1527.6" x2="225.6" y2="1549.3999999999999" stroke-width="2"/>
<line x1="546.6" y1="2650.5" x2="546.6" y2="2628.7" stroke-width="2"/>
<line x1="546.6" y1="1527.6" x2="546.6" y2="1549.3999999999999" stroke-width="2"/>
<line x1="867.6" y1="2650.5" x2="867.6" y2="2628.7" stroke-width="2"/>
<line x1="867.6" y1="1527.6" x2="867.6" y2="1549.3999999999999" stroke-width="2"/>
<line x1="1188.6" y1="2650.5" x2="1188.6" y2="2628.7" stroke-width="2"/>
<line x1="1188.6" y1="1527.6" x2="1188.6" y2="1549.3999999999999" stroke-width="2"/>
<line x1="1509.6" y1="2650.5" x2="1509.6" y2="2628.7" stroke-width="2"/>
<line x1="1509.6" y1="1527.6" x2="1509.6" y2="1549.3999999999999" stroke-width="2"/>
<line x1="1830.6" y1="2650.5" x2="1830.6" y2="2628.7" stroke-width="2"/>
<line x1="1830.6" y1="1527.6" x2="1830.6" y2="1549.3999999999999" stroke-width="2"/>
<line x1="2151.6" y1="2650.5" x2="2151.6" y2="2628.7" stroke-width="2"/>
<line x1="2151.6" y1="1527.6" x2="2151.6" y2="1549.3999999999999" stroke-width="2"/>
<line x1="225.6" y1="2650.5" x2="246.0" y2="2650.5" stroke-width="2"/>
<line x1="2280.0" y1="2650.5" x2="2259.6" y2="2650.5" stroke-width="2"/>
<line x1="225.6" y1="2490.1" x2="246.0" y2="2490.1" stroke-width="2"/>
<line x1="2280.0" y1="2490.1" x2="2259.6" y2="2490.1" stroke-width="2"/>
<line x1="225.6" y1="2329.7" x2="246.0" y2="2329.7" stroke-width="2"/>
<line x1="2280.0" y1="2329.7" x2="2259.6" y2="2329.7" stroke-width="2"/>
<line x1="225.6" y1="2169.3" x2="246.0" y2="2169.3" stroke-width="2"/>
<line x1="2280.0" y1="2169.3" x2="2259.6" y2="2169.3" stroke-width="2"/>
<line x1="225.6" y1="2008.8" x2="246.0" y2="2008.8" stroke-width="2"/>
<line x1="2280.0" y1="2008.8" x2="2259.6" y2="2008.8" stroke-width="2"/>
<line x1="225.6" y1="1848.4" x2="246.0" y2="1848.4" stroke-width="2"/>
<line x1="2280.0" y1="1848.4" x2="2259.6" y2="1848.4" stroke-width="2"/>
<line x1="225.6" y1="1688.0" x2="246.0" y2="1688.0" stroke-width="2"/>
<line x1="2280.0" y1="1688.0" x2="2259.6" y2="1688.0" stroke-width="2"/>
<line x1="225.6" y1="1527.6" x2="246.0" y2="1527.6" stroke-width="2"/>
<line x1="2280.0" y1="1527.6" x2="2259.6" y2="1527.6" stroke-width="2"/>
</g>
<g font-family="'Liberation Sans', Arial, Helvetica, sans-serif" font-size="57.4" fill="#000">
<text x="224.4" y="2710.3" text-anchor="middle">0</text>
<text x="545.4" y="2710.3" text-anchor="middle">500</text>
<text x="866.4" y="2710.3" text-anchor="middle">1000</text>
<text x="1187.4" y="2710.3" text-anchor="middle">1500</text>
<text x="1508.4" y="2710.3" text-anchor="middle">2000</text>
<text x="1829.4" y="2710.3" text-anchor="middle">2500</text>
<text x="2150.4" y="2710.3" text-anchor="middle">3000</text>
<text x="216.1" y="2671.0" text-anchor="end">-80</text>
<text x="216.1" y="2510.6" text-anchor="end">-70</text>
<text x="216.1" y="2350.2" text-anchor="end">-60</text>
<text x="216.1" y="2189.8" text-anchor="end">-50</text>
<text x="216.1" y="2029.3" text-anchor="end">-40</text>
<text x="216.1" y="1868.9" text-anchor="end">-30</text>
<text x="216.1" y="1708.5" text-anchor="end">-20</text>
<text x="216.1" y="1548.1" text-anchor="end">-10</text>
<text x="1248.5" y="2770.2" text-anchor="middle">Frequency (Hz)</text>
<text transform="translate(106.1,2090.9) rotate(-90)" text-anchor="middle">Magnitude (dB)</text>
</g>
<text x="1206.5" y="2889.9" font-family="'Liberation Serif', 'Times New Roman', serif" font-size="86" text-anchor="middle" letter-spacing="-2.4">(<tspan font-weight="bold">b</tspan>)</text>
<clipPath id="clipc"><rect x="222.1" y="3019.5" width="2061.9" height="1135.3000000000002"/></clipPath>
<g clip-path="url(#clipc)" fill="none" stroke-linejoin="round" stroke-linecap="butt">
<polyline stroke="#000" stroke-width="5.0" stroke-dasharray="13.8 3.2" points="222.7,3323.1 234.1,3326.1 238.4,3330.5 242.8,3386.5 247.2,3460.1 251.5,3519.0 255.9,3539.7 264.7,3554.4 273.4,3578.0 281.3,3594.2 286.5,3572.1 293.1,3524.9 299.6,3504.3 308.4,3491.1 314.9,3495.5 321.5,3513.2 330.2,3545.6 341.1,3564.7 347.7,3554.4 352.9,3532.3 360.8,3536.7 369.6,3527.9 378.3,3519.0 384.9,3513.2 391.4,3430.7 396.7,3371.7 402.3,3349.6 411.1,3371.7 417.6,3460.1 422.0,3501.4 430.7,3530.8 437.3,3554.4 443.9,3533.8 452.6,3501.4 461.3,3530.8 469.2,3575.0 474.5,3548.5 481.0,3342.3 487.6,3253.9 491.9,3246.5 498.5,3253.9 505.1,3342.3 508.9,3478.2 512.7,3556.5 518.6,3577.4 522.4,3608.7 526.3,3647.9 530.2,3666.1 534.8,3674.0 541.8,3666.1 549.5,3663.5 557.3,3650.5 561.1,3634.8 565.0,3582.6 568.9,3504.3 574.7,3373.8 584.4,3324.2 592.1,3332.1 597.9,3399.9 603.7,3504.3 609.5,3582.6 613.4,3621.8 617.3,3636.1 623.1,3608.7 630.8,3585.2 638.6,3582.6 646.3,3590.5 654.1,3608.7 659.9,3530.4 665.7,3452.1 671.5,3392.1 677.3,3386.9 683.1,3405.2 687.0,3478.2 690.8,3556.5 694.7,3621.8 700.5,3627.0 706.3,3644.0 712.1,3595.7 717.9,3561.7 723.7,3553.9 731.5,3559.1 738.5,3582.6 740.0,3639.9 748.7,3578.0 755.3,3460.1 760.5,3417.4 768.4,3421.8 775.0,3489.6 779.3,3578.0 783.7,3666.4 786.8,3715.0 792.4,3666.4 799.0,3607.4 805.6,3563.2 812.1,3547.0 818.7,3557.4 823.0,3592.7 829.6,3622.2 836.1,3592.7 844.9,3519.0 853.6,3477.8 862.4,3495.5 868.9,3548.5 875.5,3636.9 880.7,3685.5 886.4,3672.3 895.2,3666.4 901.7,3631.0 910.5,3592.7 919.2,3604.5 927.9,3651.6 933.6,3548.5 938.9,3460.1 945.4,3424.8 952.0,3436.5 958.5,3519.0 965.1,3607.4 971.6,3642.8 978.2,3548.5 984.8,3445.4 991.3,3396.8 997.9,3398.2 1004.4,3460.1 1011.0,3578.0 1015.4,3660.5 1021.9,3578.0 1028.5,3401.2 1035.0,3283.3 1039.4,3270.1 1045.9,3283.3 1052.5,3401.2 1057.7,3519.0 1062.1,3625.1 1067.8,3578.0 1076.5,3533.8 1080.9,3519.0 1089.7,3536.7 1098.4,3592.7 1105.8,3664.9 1111.5,3578.0 1118.1,3401.2 1124.6,3283.3 1130.3,3265.7 1137.7,3277.4 1144.3,3401.2 1148.7,3548.5 1153.0,3607.4 1159.6,3619.2 1166.1,3648.7 1172.7,3634.0 1183.6,3631.0 1198.9,3622.2 1203.3,3548.5 1207.7,3401.2 1214.2,3271.5 1223.0,3270.1 1229.5,3283.3 1236.1,3430.7 1240.4,3548.5 1244.8,3622.2 1247.0,3636.9 1256.8,3519.0 1263.4,3460.1 1267.8,3449.8 1274.3,3474.9 1278.7,3519.0 1283.1,3563.2 1287.4,3519.0 1294.0,3401.2 1300.6,3283.3 1307.1,3233.2 1312.8,3227.3 1319.3,3242.1 1323.7,3312.8 1328.1,3430.7 1331.1,3519.0 1335.5,3575.0 1342.1,3548.5 1348.6,3489.6 1355.2,3451.3 1361.7,3474.9 1368.3,3519.0 1374.9,3563.2 1381.4,3519.0 1388.0,3371.7 1394.5,3253.9 1403.3,3177.3 1409.8,3189.0 1414.2,3253.9 1420.8,3371.7 1425.1,3489.6 1429.5,3524.9 1436.0,3489.6 1442.6,3460.1 1449.2,3454.2 1455.7,3477.8 1464.5,3519.0 1471.0,3566.2 1475.4,3519.0 1481.9,3312.8 1488.5,3194.9 1495.1,3177.3 1501.6,3194.9 1508.2,3312.8 1512.5,3460.1 1516.9,3504.3 1521.3,3542.6 1527.8,3460.1 1534.4,3386.5 1539.6,3376.1 1545.3,3383.5 1551.9,3430.7 1558.4,3519.0 1562.8,3460.1 1569.4,3253.9 1575.9,3150.7 1584.7,3128.6 1591.2,3136.0 1597.8,3253.9 1602.1,3371.7 1606.5,3460.1 1613.1,3519.0 1618.7,3575.0 1624.0,3519.0 1630.5,3474.9 1634.9,3460.1 1641.5,3489.6 1648.9,3536.7 1654.6,3519.0 1661.1,3342.3 1667.7,3194.9 1676.4,3144.3 1683.0,3153.7 1687.4,3224.4 1691.7,3371.7 1696.1,3489.6 1700.5,3554.4 1709.2,3533.8 1718.0,3520.5 1726.7,3519.0 1733.3,3533.8 1739.8,3519.0 1748.6,3460.1 1755.1,3312.8 1761.7,3194.9 1768.2,3169.9 1773.7,3183.2 1778.1,3253.9 1782.4,3401.2 1785.5,3489.6 1789.0,3519.0 1793.4,3533.8 1796.9,3557.4 1802.1,3533.8 1808.7,3513.2 1815.2,3524.9 1821.8,3542.6 1828.3,3557.4 1837.1,3578.0 1841.4,3519.0 1845.8,3460.1 1850.2,3401.2 1856.7,3377.6 1863.3,3383.5 1869.9,3445.4 1874.2,3519.0 1878.6,3572.1 1880.8,3585.3 1887.3,3548.5 1893.9,3504.3 1902.6,3467.5 1909.2,3477.8 1915.8,3519.0 1922.3,3551.5 1928.9,3548.5 1935.4,3519.0 1942.0,3474.9 1950.7,3466.0 1957.3,3471.9 1963.8,3519.0 1968.2,3592.7 1972.6,3642.8 1976.9,3645.7 1981.3,3578.0 1985.7,3533.8 1990.9,3523.5 1996.6,3527.9 2003.2,3563.2 2007.5,3636.9 2009.7,3651.6 2016.3,3592.7 2022.8,3519.0 2029.4,3430.7 2038.1,3410.0 2044.7,3418.9 2051.2,3489.6 2055.6,3592.7 2062.2,3631.0 2070.9,3660.5 2077.5,3673.7 2084.0,3651.6 2090.6,3631.0 2099.3,3651.6 2105.9,3666.4 2112.4,3607.4 2119.0,3504.3 2123.4,3474.9 2129.9,3457.2 2136.5,3469.0 2143.0,3548.5 2149.6,3636.9 2154.0,3692.9 2154.3,3691.4 2158.2,3655.0 2162.0,3618.6 2165.9,3600.4 2169.8,3594.3 2174.4,3598.9 2178.3,3612.5 2183.3,3642.9 2187.2,3685.3 2190.3,3721.7 2193.0,3739.9 2194.6,3738.6 2199.9,3695.8 2204.2,3607.4 2208.6,3489.6 2215.2,3410.0 2222.6,3395.3 2228.3,3401.2 2234.8,3460.1 2241.4,3578.0 2245.7,3651.6 2251.4,3697.3 2258.9,3666.4 2267.6,3645.7 2274.2,3631.0 2283.8,3616.3"/>
<polyline stroke="#ff0000" stroke-width="5.2" points="222.6,3428.4 227.6,3434.2 233.4,3445.7 237.3,3453.4 241.1,3503.6 244.2,3542.2 246.9,3571.1 250.8,3549.9 254.6,3546.0 260.4,3551.8 264.3,3569.2 268.1,3592.3 272.0,3607.7 277.8,3600.0 283.6,3603.9 289.4,3611.6 293.2,3580.7 297.1,3522.9 300.9,3492.0 306.7,3465.0 314.4,3457.3 319.1,3465.0 324.1,3503.6 327.2,3542.2 329.9,3580.7 331.8,3607.7 334.5,3629.0 339.5,3607.7 345.3,3602.0 351.1,3600.0 354.9,3592.3 360.0,3584.6 364.6,3565.3 370.4,3559.5 376.2,3540.2 380.0,3536.4 384.6,3546.0 388.5,3580.7 393.5,3584.6 399.3,3586.5 407.0,3596.2 410.9,3607.7 415.5,3644.4 419.4,3607.7 422.5,3580.7 426.3,3544.1 432.1,3540.2 437.1,3546.0 441.0,3571.1 445.6,3575.0 449.5,3561.5 454.1,3538.3 459.1,3533.7 464.1,3549.9 468.7,3569.2 472.6,3592.3 476.5,3625.1 482.2,3621.2 487.3,3619.3 491.9,3634.7 495.7,3657.9 499.6,3684.9 503.5,3704.2 507.3,3719.6 510.4,3721.5 515.0,3711.9 518.9,3677.2 522.7,3638.6 526.6,3607.7 530.5,3592.3 536.2,3576.9 541.3,3580.7 545.9,3592.3 549.8,3619.3 553.6,3657.9 556.7,3692.6 561.3,3715.8 565.2,3735.0 569.0,3773.6 572.1,3800.6 576.0,3773.6 580.6,3754.3 586.4,3735.0 591.4,3715.8 595.3,3696.5 598.0,3677.2 601.8,3646.3 605.7,3619.3 609.5,3596.2 615.3,3583.8 621.1,3586.5 625.0,3607.7 628.8,3638.6 632.7,3665.6 638.5,3696.5 644.3,3723.5 650.0,3742.8 655.8,3762.0 660.8,3715.8 665.5,3677.2 669.3,3638.6 675.1,3615.5 679.0,3607.7 682.8,3623.2 686.7,3677.2 690.6,3715.8 694.4,3723.5 698.3,3684.9 702.1,3669.5 707.1,3663.7 711.8,3669.5 717.6,3681.0 721.4,3700.3 725.3,3735.0 729.1,3762.0 734.9,3792.9 736.9,3839.2 742.6,3870.1 747.7,3831.5 752.3,3754.3 756.1,3657.9 760.8,3619.3 767.7,3617.4 772.3,3627.0 776.2,3677.2 779.3,3754.3 782.4,3831.5 787.0,3881.6 790.9,3862.3 796.6,3831.5 802.4,3804.5 808.2,3785.2 814.0,3773.6 818.6,3765.9 823.7,3792.9 828.7,3823.8 833.3,3843.1 839.1,3843.1 842.9,3792.9 846.8,3715.8 850.7,3700.3 855.7,3694.5 860.3,3704.2 866.1,3719.6 869.9,3773.6 873.8,3831.5 877.7,3870.1 881.5,3858.5 886.5,3846.9 891.2,3839.2 895.8,3854.6 900.8,3877.8 906.6,3881.6 910.4,3908.6 916.2,3931.8 922.0,3958.8 927.8,3991.6 931.7,3947.2 935.5,3889.3 941.3,3831.5 947.1,3804.5 952.9,3802.6 956.7,3823.8 960.6,3870.1 964.5,3927.9 968.3,3966.5 972.2,3981.9 976.8,3954.9 979.9,3908.6 983.7,3850.8 989.5,3816.1 994.5,3806.4 1001.1,3806.4 1005.0,3850.8 1007.7,3908.6 1010.7,3910.6 1014.6,3897.1 1021.5,3885.5 1026.2,3900.9 1030.0,3908.6 1033.9,3902.8 1039.7,3900.9 1045.5,3893.2 1051.2,3885.5 1055.1,3870.1 1060.9,3860.4 1066.7,3850.8 1071.7,3848.8 1076.3,3858.5 1080.2,3870.1 1084.0,3885.5 1087.9,3900.9 1091.8,3912.5 1096.4,3926.0 1101.4,3931.8 1107.2,3935.6 1113.0,3916.4 1118.8,3908.6 1123.4,3912.5 1127.2,3924.1 1130.3,3947.2 1134.2,3972.3 1138.0,3962.6 1141.1,3931.8 1145.0,3924.1 1149.6,3920.2 1153.5,3908.6 1157.3,3889.3 1161.2,3877.8 1165.0,3875.8 1168.9,3893.2 1172.8,3916.4 1176.6,3939.5 1180.5,3951.1 1184.3,3939.5 1188.2,3931.8 1194.0,3943.4 1199.0,3954.9 1201.7,3978.1 1205.6,4003.1 1209.4,3978.1 1213.3,3931.8 1217.1,3889.3 1222.9,3870.1 1226.8,3854.6 1230.6,3812.2 1234.5,3773.6 1240.3,3764.0 1246.1,3769.8 1249.9,3785.2 1254.9,3818.0 1259.6,3792.9 1265.4,3781.3 1269.2,3779.4 1273.1,3800.6 1276.9,3843.1 1280.8,3862.3 1284.6,3877.8 1288.5,3908.6 1292.4,3918.3 1297.4,3912.5 1300.1,3889.3 1303.9,3870.1 1309.7,3854.6 1315.5,3858.5 1319.4,3850.8 1323.2,3831.5 1327.1,3804.5 1332.9,3808.3 1336.7,3823.8 1339.8,3843.1 1343.7,3831.5 1347.5,3792.9 1351.4,3765.9 1356.0,3760.1 1360.6,3769.8 1363.7,3792.9 1367.6,3831.5 1371.4,3870.1 1375.3,3927.9 1380.3,3949.1 1384.9,3931.8 1388.8,3889.3 1392.7,3850.8 1396.5,3816.1 1401.1,3806.4 1406.2,3816.1 1410.0,3827.6 1413.1,3825.7 1415.8,3773.6 1421.6,3746.6 1426.2,3738.9 1431.2,3746.6 1435.1,3754.3 1438.9,3785.2 1442.8,3816.1 1446.7,3850.8 1450.5,3889.3 1454.4,3927.9 1458.2,3954.9 1462.1,3927.9 1466.0,3908.6 1471.0,3912.5 1475.6,3922.1 1479.5,3920.2 1484.1,3916.4 1487.2,3900.9 1491.0,3870.1 1494.9,3850.8 1499.5,3812.2 1503.4,3769.8 1508.4,3762.0 1514.2,3758.2 1518.0,3773.6 1522.7,3792.9 1525.7,3808.3 1529.6,3792.9 1535.4,3779.4 1540.4,3777.5 1545.0,3783.3 1548.9,3812.2 1552.7,3843.1 1556.6,3870.1 1561.2,3893.2 1566.2,3877.8 1572.0,3850.8 1575.9,3812.2 1581.7,3773.6 1586.7,3754.3 1592.5,3744.7 1597.1,3750.5 1601.0,3758.2 1604.8,3762.0 1610.6,3764.0 1614.5,3773.6 1618.3,3792.9 1621.4,3812.2 1624.1,3845.0 1629.9,3846.9 1635.7,3848.8 1639.5,3870.1 1645.3,3908.6 1651.1,3947.2 1655.0,3989.6 1658.8,3947.2 1662.7,3870.1 1666.5,3792.9 1670.4,3735.0 1676.2,3719.6 1682.0,3721.5 1685.8,3735.0 1689.7,3792.9 1693.5,3831.5 1699.3,3843.1 1705.1,3858.5 1710.9,3864.3 1716.7,3860.4 1722.5,3862.3 1728.3,3870.1 1732.1,3881.6 1736.0,3900.9 1739.8,3916.4 1745.6,3922.1 1749.5,3889.3 1753.3,3831.5 1757.2,3773.6 1761.1,3727.3 1766.9,3717.7 1771.5,3715.8 1776.5,3754.3 1780.4,3831.5 1784.2,3870.1 1788.1,3885.5 1793.9,3893.2 1798.5,3920.2 1803.5,3947.2 1808.5,3970.4 1813.1,3954.9 1818.9,3939.5 1823.9,3947.2 1828.6,3954.9 1832.4,3978.1 1836.3,3989.6 1840.2,3999.3 1844.0,3908.6 1847.9,3792.9 1852.5,3762.0 1858.7,3756.3 1864.1,3762.0 1867.9,3792.9 1871.8,3850.8 1875.6,3908.6 1879.5,3947.2 1884.5,3981.9 1890.3,3997.4 1894.2,3966.5 1898.0,3954.9 1902.6,3949.1 1907.7,3954.9 1913.4,3978.1 1919.2,3987.7 1925.0,3985.8 1929.6,3966.5 1934.7,3908.6 1938.5,3850.8 1943.1,3821.8 1948.2,3823.8 1952.8,3827.6 1956.6,3850.8 1960.5,3908.6 1964.4,3985.8 1968.2,4066.8 1973.2,4051.4 1979.0,4039.8 1982.9,4016.6 1987.5,3985.8 1992.5,3970.4 1998.3,3954.9 2002.2,3954.9 2006.0,3985.8 2009.9,4024.4 2014.5,4028.2 2017.6,4005.1 2020.7,3985.8 2025.3,3966.5 2029.2,3927.9 2033.0,3908.6 2037.7,3889.3 2042.7,3885.5 2047.7,3900.9 2051.5,3927.9 2054.2,3985.8 2056.2,4008.9 2062.0,4001.2 2067.7,3966.5 2073.5,3966.5 2079.3,3978.1 2085.1,3993.5 2090.9,4008.9 2096.7,4024.4 2102.5,4034.0 2106.3,4005.1 2110.2,3966.5 2114.0,3927.9 2118.7,3870.1 2123.7,3819.9 2128.7,3802.6 2133.3,3800.6 2139.1,3808.3 2143.0,3850.8 2146.8,3908.6 2151.8,3954.9 2156.5,3974.2 2164.2,3991.6 2170.0,3981.9 2175.8,3978.1 2181.5,3974.2 2186.6,3978.1 2190.4,4005.1 2194.3,4035.9 2198.9,4005.1 2202.8,3985.8 2207.4,3947.2 2212.4,3870.1 2217.4,3839.2 2222.1,3835.3 2227.1,3850.8 2231.7,3889.3 2236.7,3947.2 2241.3,3981.9 2247.1,3981.9 2252.1,3966.5 2256.8,3947.2 2263.7,3941.4 2270.3,3943.4 2276.1,3954.9 2283.8,3974.2"/>
<polyline stroke="#0000ff" stroke-width="5.2" points="222.6,3364.7 229.6,3364.7 235.4,3368.6 239.2,3387.9 241.9,3426.4 245.0,3476.6 248.1,3511.3 251.9,3530.6 256.6,3540.2 262.4,3549.9 268.1,3561.5 272.0,3580.7 275.9,3607.7 279.7,3611.6 284.4,3613.5 287.4,3580.7 291.3,3530.6 295.2,3503.6 299.8,3476.6 303.6,3461.2 308.7,3468.9 313.7,3488.2 317.5,3515.2 321.4,3546.0 325.2,3580.7 328.7,3619.3 331.8,3615.5 335.7,3607.7 340.7,3596.2 345.3,3576.9 349.2,3546.0 353.8,3519.0 358.8,3507.4 364.6,3509.4 370.4,3505.5 374.2,3495.9 379.2,3482.4 383.9,3486.2 387.7,3457.3 391.6,3418.7 396.2,3387.9 401.2,3376.3 407.0,3375.5 411.6,3387.9 414.7,3426.4 417.8,3503.6 420.5,3580.7 422.5,3615.5 428.2,3623.2 432.1,3634.7 434.8,3650.2 437.9,3667.5 442.5,3657.9 447.5,3630.9 451.4,3607.7 457.2,3596.2 461.8,3592.3 466.8,3600.0 470.7,3615.5 474.5,3623.2 476.5,3561.5 480.3,3465.0 484.2,3407.2 488.0,3364.7 492.7,3355.1 497.7,3357.0 501.5,3368.6 505.4,3426.4 508.1,3503.6 511.2,3600.0 513.1,3684.9 517.0,3696.5 520.8,3708.0 524.7,3715.8 530.5,3717.7 534.3,3723.5 538.2,3738.9 542.0,3744.7 545.9,3750.5 549.8,3762.0 553.6,3777.5 557.5,3785.2 561.3,3781.3 565.2,3715.8 569.0,3600.0 572.9,3503.6 578.7,3461.2 584.5,3451.5 589.1,3457.3 593.0,3472.7 596.0,3522.9 599.9,3600.0 603.8,3677.2 606.8,3742.8 611.5,3746.6 615.3,3754.3 621.1,3762.0 626.9,3765.9 632.7,3767.8 637.7,3765.9 641.6,3777.5 645.4,3800.6 649.3,3823.8 653.9,3827.6 657.8,3792.9 661.6,3715.8 665.5,3657.9 669.3,3615.5 675.1,3596.2 680.1,3594.2 684.8,3607.7 687.9,3677.2 690.6,3754.3 694.4,3831.5 699.4,3833.4 704.8,3827.6 708.7,3792.9 713.7,3769.8 719.5,3762.0 725.3,3769.8 729.1,3785.2 733.0,3812.2 734.9,3850.8 737.6,3877.8 744.6,3900.9 749.2,3870.1 752.3,3812.2 756.1,3735.0 760.0,3684.9 765.8,3669.5 770.8,3675.3 774.7,3700.3 778.5,3754.3 781.2,3831.5 783.9,3908.6 787.0,3939.5 790.9,3908.6 796.6,3870.1 802.4,3831.5 808.2,3806.4 814.0,3802.6 818.6,3800.6 823.7,3831.5 827.5,3889.3 831.4,3916.4 834.1,3924.1 839.1,3912.5 844.9,3900.9 848.7,3885.5 854.5,3881.6 860.3,3883.6 866.1,3887.4 869.9,3908.6 873.8,3927.9 877.7,3947.2 881.5,3966.5 885.4,3978.1 889.2,3997.4 891.9,4005.1 896.9,3985.8 902.7,3972.3 908.5,3978.1 914.3,3962.6 920.1,3939.5 925.9,3920.2 931.7,3914.4 935.5,3870.1 939.4,3812.2 943.2,3773.6 947.1,3762.0 952.1,3760.1 956.7,3773.6 960.6,3812.2 964.5,3870.1 968.3,3916.4 972.2,3947.2 976.0,3927.9 979.9,3850.8 983.7,3773.6 989.5,3735.0 995.3,3723.5 1001.1,3727.3 1005.0,3773.6 1008.8,3850.8 1012.7,3908.6 1015.4,3927.9 1019.2,3916.4 1023.1,3850.8 1026.9,3754.3 1030.8,3684.9 1037.7,3656.0 1043.5,3657.9 1047.4,3677.2 1051.2,3715.8 1055.1,3792.9 1059.0,3889.3 1062.8,3966.5 1066.7,3947.2 1070.5,3889.3 1074.4,3850.8 1078.3,3831.5 1082.1,3819.9 1087.1,3818.0 1091.8,3823.8 1095.6,3850.8 1099.5,3889.3 1103.3,3916.4 1107.2,3933.7 1111.0,3908.6 1114.9,3850.8 1118.8,3754.3 1122.6,3677.2 1126.5,3646.3 1131.1,3638.6 1136.1,3646.3 1140.0,3677.2 1143.8,3754.3 1147.7,3850.8 1151.5,3927.9 1154.2,3962.6 1158.1,3951.1 1163.1,3951.1 1167.0,3945.3 1172.8,3939.5 1178.5,3933.7 1184.3,3926.0 1190.1,3939.5 1194.0,3954.9 1197.8,3953.0 1201.7,3935.6 1205.6,3831.5 1209.4,3715.8 1213.3,3638.6 1218.3,3611.6 1222.9,3607.7 1227.9,3615.5 1232.6,3677.2 1236.4,3754.3 1240.3,3881.6 1244.1,3897.1 1248.0,3908.6 1251.1,3937.6 1255.7,3850.8 1261.5,3792.9 1267.3,3775.5 1273.1,3779.4 1276.9,3812.2 1280.8,3850.8 1284.6,3908.6 1288.5,3983.9 1292.4,3927.9 1296.2,3792.9 1300.1,3677.2 1303.9,3619.3 1308.9,3596.2 1313.6,3592.3 1319.4,3600.0 1323.2,3638.6 1327.1,3715.8 1329.8,3792.9 1333.6,3908.6 1338.7,3922.1 1342.5,3889.3 1346.4,3850.8 1350.2,3812.2 1354.1,3781.3 1359.1,3777.5 1363.7,3789.1 1367.6,3831.5 1371.4,3889.3 1375.3,3927.9 1381.1,3900.9 1384.9,3792.9 1388.8,3677.2 1392.7,3600.0 1398.4,3530.6 1403.1,3515.2 1408.1,3519.0 1411.9,3542.2 1415.8,3638.6 1419.7,3754.3 1423.5,3850.8 1425.4,3885.5 1431.2,3889.3 1437.0,3881.6 1440.9,3835.3 1446.7,3827.6 1451.7,3823.8 1456.3,3835.3 1460.2,3870.1 1462.9,3904.8 1467.9,3908.6 1471.7,3897.1 1475.6,3792.9 1479.5,3696.5 1484.1,3600.0 1489.1,3542.2 1494.9,3540.2 1500.7,3546.0 1504.5,3600.0 1508.4,3677.2 1512.2,3792.9 1516.1,3889.3 1521.1,3904.8 1525.0,3870.1 1528.8,3812.2 1533.5,3746.6 1538.1,3737.0 1543.1,3740.8 1547.0,3754.3 1550.8,3812.2 1554.7,3870.1 1558.5,3927.9 1561.2,3953.0 1566.2,3870.1 1570.1,3754.3 1574.0,3638.6 1577.8,3569.2 1585.5,3542.2 1591.3,3548.0 1595.2,3561.5 1599.0,3657.9 1602.9,3754.3 1606.8,3831.5 1610.6,3870.1 1614.5,3889.3 1618.3,3900.9 1624.1,3870.1 1628.0,3858.5 1633.8,3852.7 1638.4,3862.3 1643.4,3908.6 1647.3,3947.2 1651.1,3960.7 1655.0,3958.8 1658.8,3870.1 1662.7,3715.8 1666.5,3619.3 1671.6,3584.6 1678.1,3576.9 1683.1,3584.6 1687.0,3619.3 1690.8,3715.8 1694.7,3831.5 1697.4,3889.3 1701.3,3910.6 1707.1,3912.5 1712.8,3904.8 1717.9,3900.9 1721.7,3912.5 1726.3,3900.9 1732.1,3877.8 1737.1,3872.0 1742.5,3873.9 1746.4,3889.3 1749.5,3831.5 1753.3,3715.8 1757.2,3638.6 1761.8,3584.6 1768.8,3582.7 1774.6,3600.0 1778.4,3630.9 1780.4,3677.2 1782.3,3754.3 1784.2,3831.5 1786.1,3885.5 1791.9,3885.5 1797.7,3881.6 1803.5,3862.3 1809.3,3852.7 1815.1,3852.7 1820.1,3870.1 1823.9,3908.6 1828.6,3947.2 1834.4,3958.8 1840.2,3964.6 1844.0,3889.3 1847.9,3792.9 1853.7,3769.8 1858.7,3762.0 1864.1,3769.8 1867.9,3792.9 1871.8,3850.8 1875.6,3916.4 1880.7,3916.4 1886.4,3908.6 1892.2,3897.1 1896.1,3850.8 1899.9,3839.2 1905.0,3831.5 1909.6,3846.9 1913.4,3889.3 1917.3,3947.2 1921.2,3974.2 1925.8,3978.1 1930.8,3962.6 1934.7,3927.9 1938.5,3877.8 1943.5,3854.6 1948.2,3848.8 1953.9,3854.6 1957.8,3877.8 1961.7,3908.6 1965.5,3947.2 1970.2,3978.1 1974.4,3981.9 1979.0,3974.2 1982.9,3939.5 1987.5,3908.6 1992.9,3899.0 1998.3,3908.6 2002.2,3927.9 2006.0,3947.2 2009.9,3945.3 2013.7,3927.9 2018.4,3918.3 2022.2,3924.1 2026.5,3929.9 2029.9,3889.3 2033.8,3846.9 2038.8,3839.2 2044.6,3839.2 2049.2,3854.6 2052.3,3889.3 2056.2,3927.9 2062.0,3943.4 2067.7,3954.9 2071.6,3962.6 2077.4,3947.2 2082.4,3931.8 2087.8,3927.9 2092.8,3935.6 2098.6,3947.2 2103.2,3958.8 2107.5,3981.9 2113.3,3989.6 2117.1,3927.9 2121.8,3870.1 2126.4,3831.5 2131.4,3821.8 2136.4,3827.6 2141.0,3850.8 2144.9,3889.3 2148.8,3927.9 2153.4,3958.8 2158.4,3974.2 2165.0,3985.8 2171.1,3970.4 2177.7,3966.5 2183.5,3970.4 2187.3,3985.8 2192.0,4003.1 2197.0,4001.2 2202.8,3981.9 2206.6,3947.2 2210.5,3889.3 2215.1,3823.8 2220.1,3814.1 2225.1,3819.9 2229.8,3843.1 2233.6,3889.3 2238.3,3920.2 2243.3,3926.0 2248.3,3933.7 2251.0,3947.2 2256.8,3985.8 2261.4,3970.4 2266.4,3966.5 2272.2,3964.6 2278.0,3970.4 2283.8,3974.2"/>
</g>
<g stroke="#000" fill="none">
<line x1="221.1" y1="3019.5" x2="2285.0" y2="3019.5" stroke-width="1.3"/>
<line x1="221.1" y1="4154.8" x2="2285.0" y2="4154.8" stroke-width="2.0"/>
<line x1="222.1" y1="3019.5" x2="222.1" y2="4154.8" stroke-width="2.0"/>
<line x1="2284.0" y1="3019.5" x2="2284.0" y2="4154.8" stroke-width="2.0"/>
<line x1="222.1" y1="4154.8" x2="222.1" y2="4133.0" stroke-width="2"/>
<line x1="222.1" y1="3019.5" x2="222.1" y2="3041.3" stroke-width="2"/>
<line x1="544.3" y1="4154.8" x2="544.3" y2="4133.0" stroke-width="2"/>
<line x1="544.3" y1="3019.5" x2="544.3" y2="3041.3" stroke-width="2"/>
<line x1="866.4" y1="4154.8" x2="866.4" y2="4133.0" stroke-width="2"/>
<line x1="866.4" y1="3019.5" x2="866.4" y2="3041.3" stroke-width="2"/>
<line x1="1188.6" y1="4154.8" x2="1188.6" y2="4133.0" stroke-width="2"/>
<line x1="1188.6" y1="3019.5" x2="1188.6" y2="3041.3" stroke-width="2"/>
<line x1="1510.8" y1="4154.8" x2="1510.8" y2="4133.0" stroke-width="2"/>
<line x1="1510.8" y1="3019.5" x2="1510.8" y2="3041.3" stroke-width="2"/>
<line x1="1833.0" y1="4154.8" x2="1833.0" y2="4133.0" stroke-width="2"/>
<line x1="1833.0" y1="3019.5" x2="1833.0" y2="3041.3" stroke-width="2"/>
<line x1="2155.1" y1="4154.8" x2="2155.1" y2="4133.0" stroke-width="2"/>
<line x1="2155.1" y1="3019.5" x2="2155.1" y2="3041.3" stroke-width="2"/>
<line x1="222.1" y1="4154.8" x2="242.5" y2="4154.8" stroke-width="2"/>
<line x1="2284.0" y1="4154.8" x2="2263.6" y2="4154.8" stroke-width="2"/>
<line x1="222.1" y1="4028.7" x2="242.5" y2="4028.7" stroke-width="2"/>
<line x1="2284.0" y1="4028.7" x2="2263.6" y2="4028.7" stroke-width="2"/>
<line x1="222.1" y1="3902.5" x2="242.5" y2="3902.5" stroke-width="2"/>
<line x1="2284.0" y1="3902.5" x2="2263.6" y2="3902.5" stroke-width="2"/>
<line x1="222.1" y1="3776.4" x2="242.5" y2="3776.4" stroke-width="2"/>
<line x1="2284.0" y1="3776.4" x2="2263.6" y2="3776.4" stroke-width="2"/>
<line x1="222.1" y1="3650.2" x2="242.5" y2="3650.2" stroke-width="2"/>
<line x1="2284.0" y1="3650.2" x2="2263.6" y2="3650.2" stroke-width="2"/>
<line x1="222.1" y1="3524.1" x2="242.5" y2="3524.1" stroke-width="2"/>
<line x1="2284.0" y1="3524.1" x2="2263.6" y2="3524.1" stroke-width="2"/>
<line x1="222.1" y1="3397.9" x2="242.5" y2="3397.9" stroke-width="2"/>
<line x1="2284.0" y1="3397.9" x2="2263.6" y2="3397.9" stroke-width="2"/>
<line x1="222.1" y1="3271.8" x2="242.5" y2="3271.8" stroke-width="2"/>
<line x1="2284.0" y1="3271.8" x2="2263.6" y2="3271.8" stroke-width="2"/>
<line x1="222.1" y1="3145.6" x2="242.5" y2="3145.6" stroke-width="2"/>
<line x1="2284.0" y1="3145.6" x2="2263.6" y2="3145.6" stroke-width="2"/>
<line x1="222.1" y1="3019.5" x2="242.5" y2="3019.5" stroke-width="2"/>
<line x1="2284.0" y1="3019.5" x2="2263.6" y2="3019.5" stroke-width="2"/>
</g>
<g font-family="'Liberation Sans', Arial, Helvetica, sans-serif" font-size="58.0" fill="#000">
<text x="220.9" y="4214.6" text-anchor="middle">0</text>
<text x="543.1" y="4214.6" text-anchor="middle">500</text>
<text x="865.2" y="4214.6" text-anchor="middle">1000</text>
<text x="1187.4" y="4214.6" text-anchor="middle">1500</text>
<text x="1509.6" y="4214.6" text-anchor="middle">2000</text>
<text x="1831.8" y="4214.6" text-anchor="middle">2500</text>
<text x="2153.9" y="4214.6" text-anchor="middle">3000</text>
<text x="214.7" y="4175.3" text-anchor="end">-100</text>
<text x="214.7" y="4049.2" text-anchor="end">-90</text>
<text x="214.7" y="3923.0" text-anchor="end">-80</text>
<text x="214.7" y="3796.9" text-anchor="end">-70</text>
<text x="214.7" y="3670.7" text-anchor="end">-60</text>
<text x="214.7" y="3544.6" text-anchor="end">-50</text>
<text x="214.7" y="3418.4" text-anchor="end">-40</text>
<text x="214.7" y="3292.3" text-anchor="end">-30</text>
<text x="214.7" y="3166.1" text-anchor="end">-20</text>
<text x="214.7" y="3040.0" text-anchor="end">-10</text>
<text x="1249.5" y="4275.8" text-anchor="middle">Frequency (Hz)</text>
<text transform="translate(70.0,3588.3) rotate(-90)" text-anchor="middle">Magnitude (dB)</text>
</g>
<text x="1206.5" y="4396.0" font-family="'Liberation Serif', 'Times New Roman', serif" font-size="86" text-anchor="middle" letter-spacing="-2.4">(<tspan font-weight="bold">c</tspan>)</text>
</svg></body></html>
